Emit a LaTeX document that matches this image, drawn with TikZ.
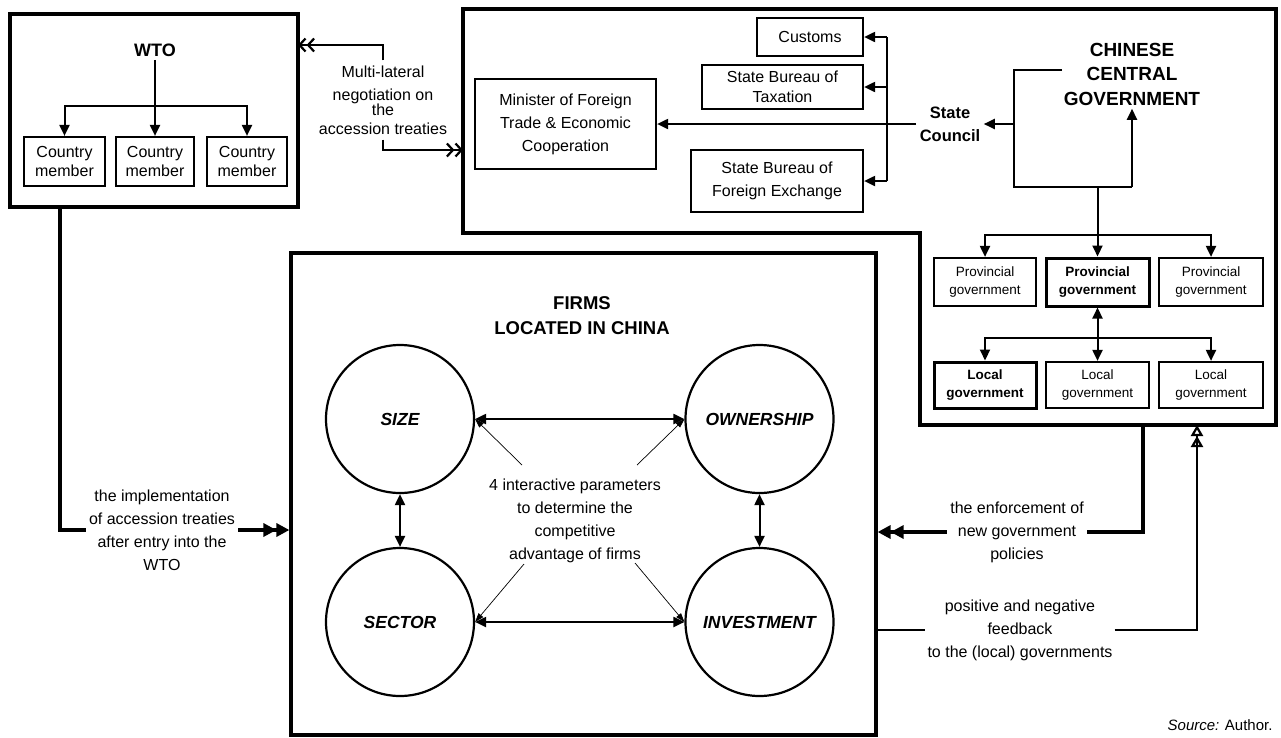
\documentclass[tikz,border=0pt]{standalone}
\usepackage{fontspec}
\setmainfont{Liberation Sans}
\usetikzlibrary{arrows.meta,calc}
\newcommand\fsz[2]{\fontsize{#1}{#2}\selectfont}
\begin{document}
\begin{tikzpicture}[x=1pt,y=-1pt,
  outerbox/.style={draw, line width=3.2pt, inner sep=0pt},
  ibox/.style={draw, line width=2.2pt, inner sep=0pt, align=center, font=\fsz{16}{18.5}},
  pbox/.style={draw, line width=2.2pt, inner sep=0pt, align=center, minimum height=48pt, font=\fsz{13.5}{18}},
  bbox/.style={pbox, line width=3pt, font=\fsz{13.5}{18}\bfseries},
  circ/.style={draw, circle, line width=2.2pt, minimum size=148pt, inner sep=0pt, font=\fsz{17.5}{20}\bfseries\itshape},
  arr/.style={line width=2pt, -{Triangle[length=11pt,width=10pt]}},
  darr/.style={line width=2pt, {Triangle[length=11pt,width=10pt]}-{Triangle[length=11pt,width=10pt]}},
  thinarr/.style={line width=0.7pt, -{Triangle[length=9pt,width=6pt]}},
  txt/.style={align=center, font=\fsz{16}{23}},
  heavy/.style={line width=3.2pt},
  filltips/.style={heavy, -{Triangle[length=13pt,width=13pt]Triangle[length=13pt,width=13pt]}},
  barbtips/.style={line width=2.2pt, -{Straight Barb[length=6pt,width=13pt]Straight Barb[length=6pt,width=13pt]}},
  opentips/.style={line width=2.2pt, -{Triangle[open,length=11pt,width=12pt]Triangle[open,length=11pt,width=12pt]}}
]
\useasboundingbox (0,0) rectangle (1281,737);

% ---------------- WTO ----------------
\node[outerbox, minimum width=288pt, minimum height=193pt] (wtobox) at (154,110.5) {};
\node[font=\fsz{18}{22}\bfseries] (wto) at (155,50) {WTO};
\node[ibox, minimum width=81pt, minimum height=49pt] (cm1) at (64.5,161.5) {Country\\member};
\node[ibox, minimum width=78pt, minimum height=49pt] (cm2) at (155,161.5) {Country\\member};
\node[ibox, minimum width=80pt, minimum height=49pt] (cm3) at (247,161.5) {Country\\member};
\coordinate (wbus) at (155,106);
\draw[arr] (wto.south) -- (cm2.north);
\draw[arr] (wbus) -| (cm1.north);
\draw[arr] (wbus) -| (cm3.north);

% ---------------- Government outline ----------------
\draw[heavy] (463,9) -- (1276,9) -- (1276,425) -- (920,425) -- (920,233) -- (463,233) -- cycle;

\node[ibox, minimum width=181pt, minimum height=90pt, font=\fsz{16}{23}] (min) at (565.5,124) {Minister of Foreign\\Trade \& Economic\\Cooperation};
\node[ibox, minimum width=106pt, minimum height=38pt] (cus) at (810,37) {Customs};
\node[ibox, minimum width=161pt, minimum height=44pt, font=\fsz{16}{20}] (tax) at (782.5,87) {State Bureau of\\Taxation};
\node[ibox, minimum width=172pt, minimum height=62pt, font=\fsz{16}{23}] (fe) at (777,181) {State Bureau of\\Foreign Exchange};
\node[font=\fsz{16.5}{23}\bfseries, align=center] (sc) at (950,124) {State\\Council};

\coordinate (bus) at (887,124);
\draw[line width=2pt] (bus |- cus.east) -- (bus |- fe.east);
\draw[arr] (bus |- cus.east) -- (cus.east);
\draw[arr] (bus |- tax.east) -- (tax.east);
\draw[arr] (bus |- fe.east) -- (fe.east);
\draw[arr] (sc.west) -- (min.east);

\node[font=\fsz{19}{24.5}\bfseries, align=center] (ccg) at (1132,74) {CHINESE\\CENTRAL\\GOVERNMENT};
\coordinate (ctap) at (1062,70);
\coordinate (gl) at (1014,187);
\coordinate (gr) at (1132,187);
\draw[line width=2pt] (ctap) -| (gl) -- (gr);
\draw[arr] (gr) -- (ccg.south);
\draw[arr] (gl |- sc.east) -- (sc.east);

\node[pbox, minimum width=102pt] (p1) at (985,282) {Provincial\\government};
\node[bbox, minimum width=103pt] (p2) at (1097.5,282) {Provincial\\government};
\node[pbox, minimum width=104pt] (p3) at (1211,282) {Provincial\\government};
\node[bbox, minimum width=102pt, minimum height=46pt] (l1) at (985,385) {Local\\government};
\node[pbox, minimum width=103pt, minimum height=46pt] (l2) at (1097.5,385) {Local\\government};
\node[pbox, minimum width=104pt, minimum height=46pt] (l3) at (1211,385) {Local\\government};

\coordinate (pb) at (1097.5,235);
\draw[arr] (p2.north |- gl) -- (p2.north);
\draw[arr] (pb) -| (p1.north);
\draw[arr] (pb) -| (p3.north);
\draw[darr] (p2.south) -- (l2.north);
\coordinate (lb) at (1097.5,338);
\draw[arr] (lb) -| (l1.north);
\draw[arr] (lb) -| (l3.north);

% ---------------- Firms ----------------
\node[outerbox, minimum width=585pt, minimum height=482pt] (firms) at (583.5,494) {};
\node[font=\fsz{18.5}{25}\bfseries, align=center] (ft) at (582,316) {FIRMS\\LOCATED IN CHINA};
\node[circ] (size) at (400,419) {SIZE};
\node[circ] (own) at (759.5,419) {OWNERSHIP};
\node[circ] (sect) at (400,622) {SECTOR};
\node[circ] (inv) at (759.5,622) {INVESTMENT};
\draw[darr] (size) -- (own);
\draw[darr] (sect) -- (inv);
\draw[darr] (size) -- (sect);
\draw[darr] (own) -- (inv);
\node[txt] (par) at (575,521) {4 interactive parameters\\to determine the\\competitive\\advantage of firms};
\coordinate (q1) at (522,465);
\coordinate (q2) at (637,465);
\coordinate (q3) at (524,564);
\coordinate (q4) at (635,563);
\draw[thinarr] (q1) -- (size.east);
\draw[thinarr] (q2) -- (own.west);
\draw[thinarr] (q3) -- (sect.east);
\draw[thinarr] (q4) -- (inv.west);

% ---------------- Connections ----------------
\node[txt, inner sep=5pt] (neg) at (383,100) {Multi-lateral\\negotiation on\\[-8pt]the\\[-4pt]accession treaties};
\coordinate (wtoR) at (298,45);
\coordinate (govL) at (463,150);
\draw[barbtips] (neg.north) |- (wtoR);
\draw[barbtips] (neg.south) |- (govL);

\node[txt] (impl) at (162,530) {the implementation\\of accession treaties\\after entry into the\\WTO};
\coordinate (wl) at (60,0);
\draw[heavy] (wtobox.south -| wl) |- (impl.west);
\draw[filltips] (impl.east) -- (firms.west |- impl.east);

\node[txt] (enf) at (1017,532) {the enforcement of\\new government\\policies};
\coordinate (govB1) at (1143,425);
\coordinate (govB2) at (1197,425);
\draw[heavy] (govB1) |- (enf.east);
\draw[filltips] (enf.west) -- (firms.east |- enf.west);

\node[txt, inner xsep=2pt] (fb) at (1020,630) {positive and negative\\feedback\\to the (local) governments};
\draw[line width=2.2pt] (firms.east |- fb.west) -- (fb.west);
\draw[opentips] (fb.east) -| (govB2);

\node[anchor=east, font=\fsz{15}{18}] (src) at (1276,725) {\textit{Source:} Author.};
\end{tikzpicture}
\end{document}
